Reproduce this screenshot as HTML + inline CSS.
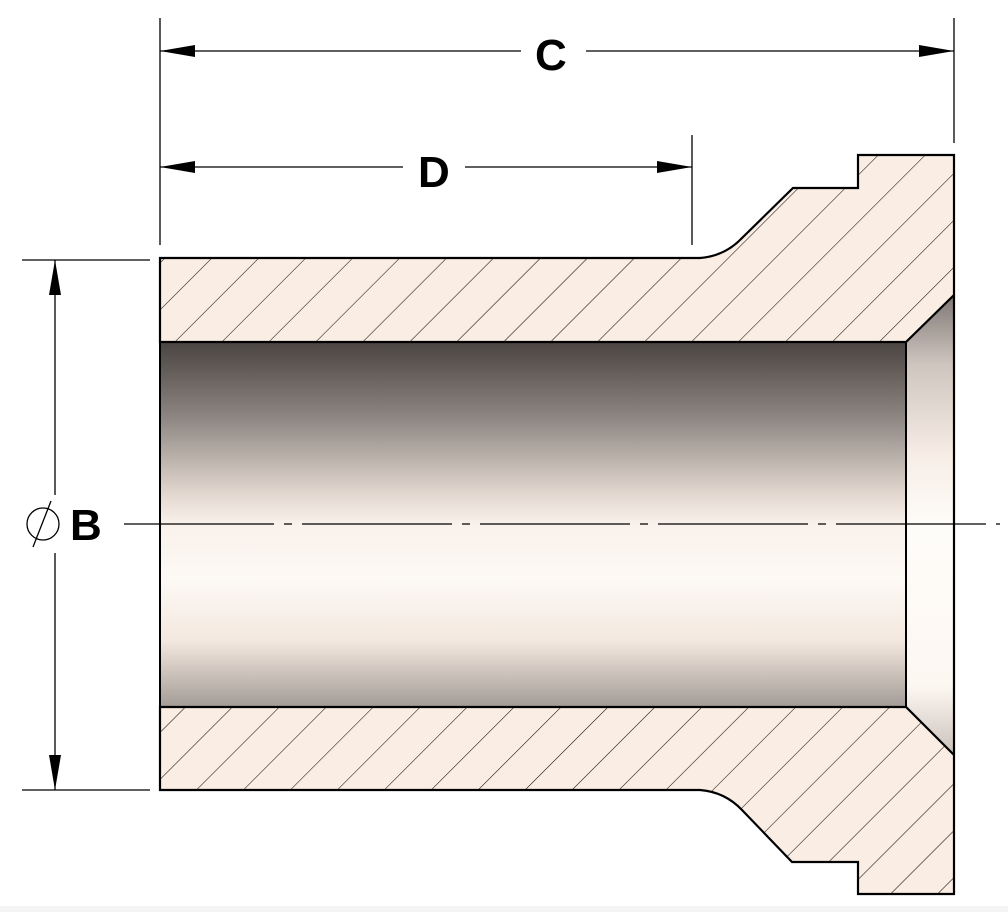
<!DOCTYPE html>
<html><head><meta charset="utf-8"><style>html,body{margin:0;padding:0;background:#fff}svg{display:block}</style></head>
<body>
<svg width="1008" height="912" viewBox="0 0 1008 912" xmlns="http://www.w3.org/2000/svg">
<defs>
<linearGradient id="bore" x1="0" y1="0" x2="0" y2="1">
<stop offset="0" stop-color="#4a4442"/>
<stop offset="0.2" stop-color="#8a837f"/>
<stop offset="0.42" stop-color="#e4d9d1"/>
<stop offset="0.5" stop-color="#f9f1eb"/>
<stop offset="0.65" stop-color="#fdf9f5"/>
<stop offset="0.82" stop-color="#f3e8df"/>
<stop offset="1" stop-color="#a39b96"/>
</linearGradient>
<linearGradient id="cham" gradientUnits="userSpaceOnUse" x1="0" y1="295" x2="0" y2="755">
<stop offset="0" stop-color="#7e7774"/>
<stop offset="0.15" stop-color="#cfc5bf"/>
<stop offset="0.35" stop-color="#f7ede6"/>
<stop offset="0.5" stop-color="#fefcf9"/>
<stop offset="0.85" stop-color="#fdf7f2"/>
<stop offset="1" stop-color="#cbc1bb"/>
</linearGradient>
<pattern id="hatch" patternUnits="userSpaceOnUse" width="33.2" height="33.2" patternTransform="rotate(45)">
<rect width="34" height="34" fill="#faede3"/>
<line x1="0" y1="0" x2="0" y2="34" stroke="#111" stroke-width="1.1"/>
</pattern>
</defs>
<rect x="160" y="342" width="746" height="365" fill="url(#bore)"/>
<rect x="906" y="295" width="48" height="460" fill="url(#cham)"/>
<path d="M160,258 L700,258 Q725,256 742,238 L793,188 L858,188 L858,155 L954,155 L954,295 L906,342 L160,342 Z" fill="url(#hatch)" stroke="#000" stroke-width="2.2"/>
<path d="M160,790 L700,790 Q725,792 742,810 L792,862 L858,862 L858,894 L954,894 L954,755 L906,707 L160,707 Z" fill="url(#hatch)" stroke="#000" stroke-width="2.2"/>
<line x1="160" y1="342" x2="160" y2="707" stroke="#000" stroke-width="2"/>
<line x1="906" y1="342" x2="906" y2="707" stroke="#000" stroke-width="2"/>
<line x1="954" y1="295" x2="954" y2="755" stroke="#000" stroke-width="2.2"/>
<line x1="124" y1="524" x2="1000" y2="524" stroke="#000" stroke-width="1.2" stroke-dasharray="150,10,8,10"/>
<g stroke="#000" stroke-width="1.3">
<line x1="160" y1="18" x2="160" y2="245"/>
<line x1="954" y1="18" x2="954" y2="143"/>
<line x1="692" y1="135" x2="692" y2="245"/>
<line x1="22" y1="260" x2="150" y2="260"/>
<line x1="22" y1="790" x2="150" y2="790"/>
<line x1="160" y1="51" x2="521" y2="51"/>
<line x1="586" y1="51" x2="954" y2="51"/>
<line x1="160" y1="167" x2="403" y2="167"/>
<line x1="465" y1="167" x2="692" y2="167"/>
<line x1="55" y1="260" x2="55" y2="495"/>
<line x1="55" y1="553" x2="55" y2="790"/>
</g>
<g fill="#000">
<polygon points="160,51 195,45 195,57"/>
<polygon points="954,51 919,45 919,57"/>
<polygon points="160,167 195,161 195,173"/>
<polygon points="692,167 657,161 657,173"/>
<polygon points="55,260 49,295 61,295"/>
<polygon points="55,790 49,755 61,755"/>
</g>
<g font-family="Liberation Sans, sans-serif" font-weight="bold" font-size="44" fill="#000">
<text x="535" y="70">C</text>
<text x="418" y="187">D</text>
<text x="70" y="540">B</text>
</g>
<circle cx="43" cy="524" r="16" fill="none" stroke="#000" stroke-width="1.3"/>
<line x1="51" y1="501" x2="33" y2="547" stroke="#000" stroke-width="1.3"/>
<rect x="0" y="906" width="1008" height="6" fill="#f4f4f4"/>
</svg>
</body></html>
